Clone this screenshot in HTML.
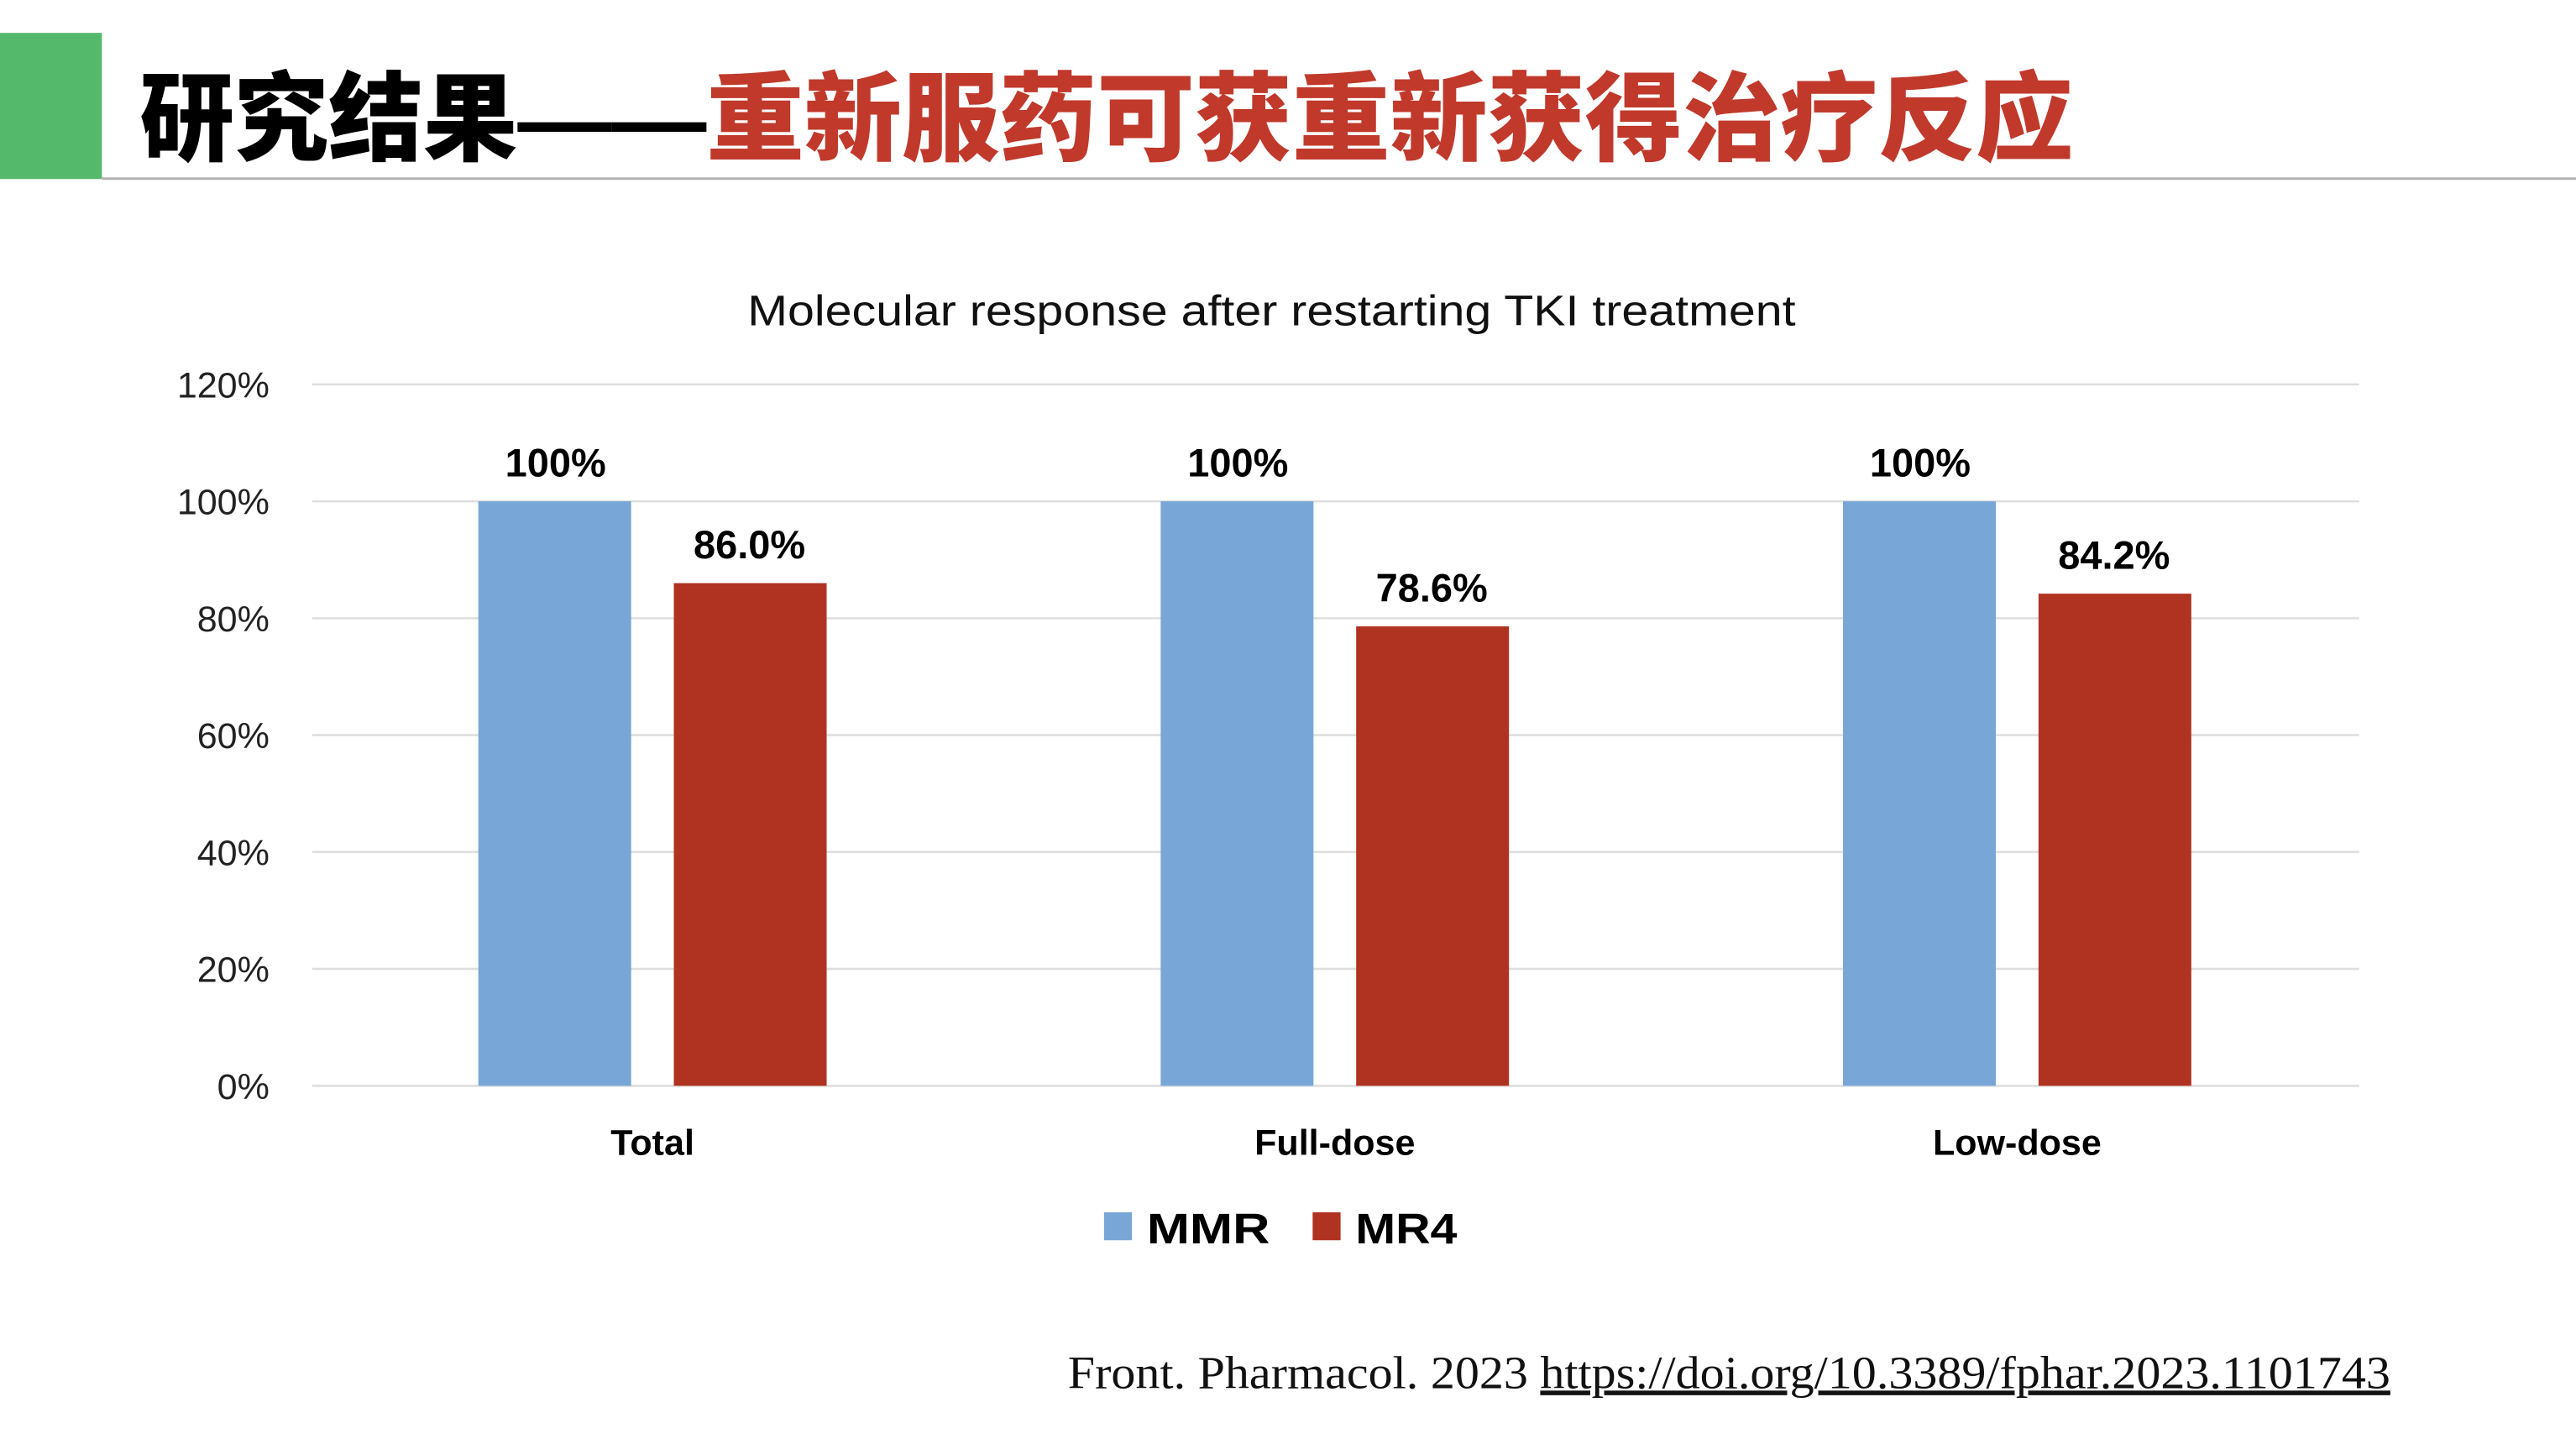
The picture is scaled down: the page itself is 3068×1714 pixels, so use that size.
<!DOCTYPE html>
<html><head><meta charset="utf-8"><style>
html,body{margin:0;padding:0;background:#fff;}
svg{display:block;}
</style></head><body>
<svg id="chart" width="3068" height="1714" viewBox="0 0 1568 876" xmlns="http://www.w3.org/2000/svg">
<rect x="0" y="20" width="62" height="89" fill="#55b96b"/>
<rect x="62" y="108" width="1506" height="1.5" fill="#b0b0b0"/>
<text x="85" y="93" font-family="'Liberation Sans','Noto Sans CJK SC',sans-serif" font-weight="900" font-size="59"><tspan fill="#000" textLength="345" lengthAdjust="spacingAndGlyphs">研究结果——</tspan><tspan fill="#c0392b" textLength="832" lengthAdjust="spacingAndGlyphs">重新服药可获重新获得治疗反应</tspan></text>
<text x="455" y="198" textLength="638" lengthAdjust="spacingAndGlyphs" font-family="'Liberation Sans',sans-serif" font-size="26" fill="#111">Molecular response after restarting TKI treatment</text>
<g id="grid"></g><g id="bars"></g><g id="labels"></g>
<g>
<rect x="672" y="738" width="17" height="17" fill="#78a6d6"/>
<text x="698" y="757" textLength="75" lengthAdjust="spacingAndGlyphs" font-family="'Liberation Sans',sans-serif" font-weight="bold" font-size="26">MMR</text>
<rect x="799" y="738" width="17" height="17" fill="#b03220"/>
<text x="825" y="757" textLength="62" lengthAdjust="spacingAndGlyphs" font-family="'Liberation Sans',sans-serif" font-weight="bold" font-size="26">MR4</text>
</g>
<text x="650" y="845" textLength="805" lengthAdjust="spacingAndGlyphs" font-family="'Liberation Serif',serif" font-size="28" fill="#111">Front. Pharmacol. 2023 <tspan text-decoration="underline">https://doi.org/10.3389/fphar.2023.1101743</tspan></text>
</svg>
<script>
const categories = ["Total","Full-dose","Low-dose"];
const mmrValues = [100,100,100];
const mr4Values = [86.0,78.6,84.2];
const mmrLabels = ["100%","100%","100%"];
const mr4Labels = ["86.0%","78.6%","84.2%"];
const yTicks = [0,20,40,60,80,100,120];
const NS="http://www.w3.org/2000/svg";
const x0=190,x1=1436,yBase=661,yTop=234,yMax=120;
const y=v=>yBase-(yBase-yTop)*v/yMax;
const bandW=(x1-x0)/categories.length;
const cx=i=>x0+bandW*(i+0.5)-0.5;
function mk(tag,attrs,parent){const e=document.createElementNS(NS,tag);for(const k in attrs)e.setAttribute(k,attrs[k]);parent.appendChild(e);return e;}
const grid=document.getElementById('grid'),bars=document.getElementById('bars'),labels=document.getElementById('labels');
yTicks.forEach(t=>{
  const l=mk('line',{x1:x0,x2:x1,y1:y(t),y2:y(t),stroke:'#dedede','stroke-width':1.3},grid);
  
  
  const tx=mk('text',{x:164,y:y(t)+8,'text-anchor':'end','font-family':"'Liberation Sans',sans-serif",'font-size':22,fill:'#222'},grid);
  tx.textContent=t+'%';
  
  
});
categories.forEach((c,i)=>{
  const c0=cx(i);
  const b1=mk('rect',{x:c0-106,y:y(mmrValues[i]),width:93,height:yBase-y(mmrValues[i]),fill:'#78a6d6'},bars);
  
  
  const b2=mk('rect',{x:c0+13,y:y(mr4Values[i]),width:93,height:yBase-y(mr4Values[i]),fill:'#b03220'},bars);
  
  
  const f={'text-anchor':'middle','font-family':"'Liberation Sans',sans-serif",'font-weight':'bold','font-size':24,fill:'#000'};
  const l1=mk('text',Object.assign({x:c0-59,y:y(mmrValues[i])-15},f),labels);
  l1.textContent=mmrLabels[i];
  
  
  const l2=mk('text',Object.assign({x:c0+59,y:y(mr4Values[i])-15},f),labels);
  l2.textContent=mr4Labels[i];
  
  
  const cl=mk('text',Object.assign({},f,{x:c0,y:703,'font-size':22}),labels);
  cl.textContent=c;
  
  
});
</script>
</body></html>
